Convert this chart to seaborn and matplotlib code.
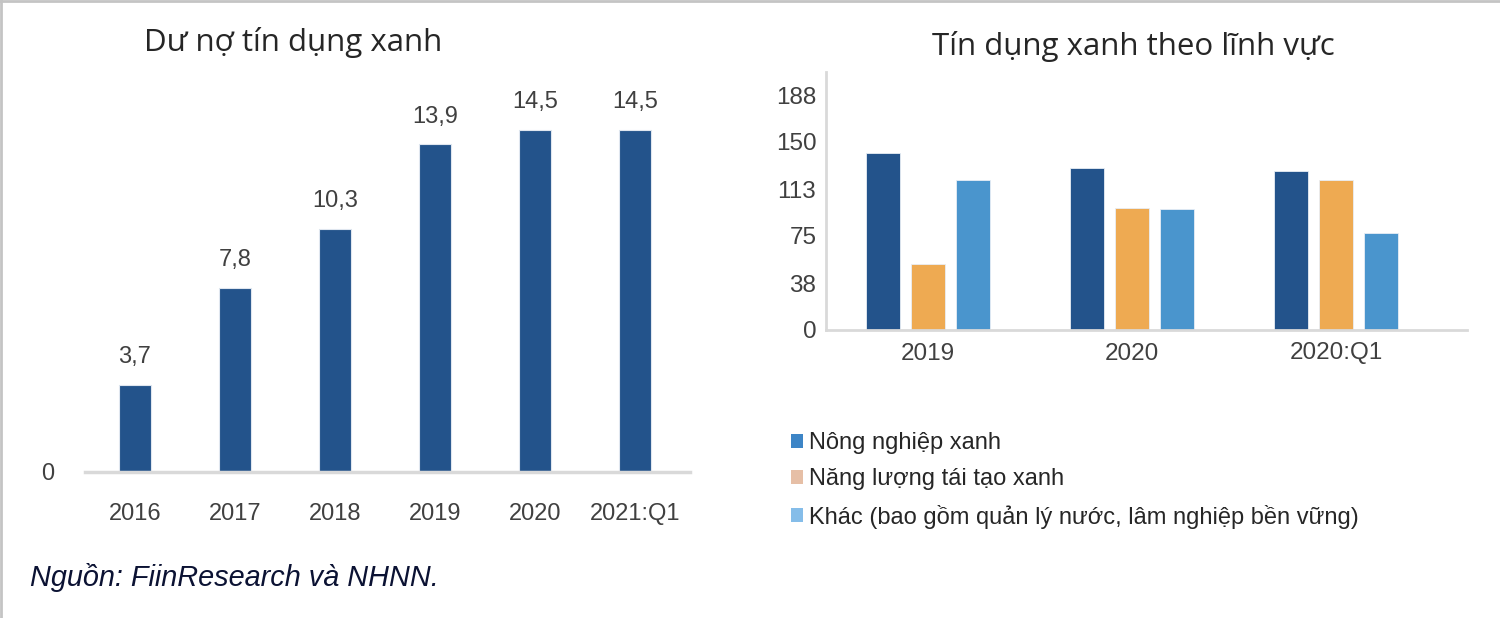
import pandas as pd
import matplotlib.pyplot as plt
import seaborn as sns
from matplotlib.patches import Patch
from matplotlib.lines import Line2D

# left chart: outstanding green credit
years = ["2016", "2017", "2018", "2019", "2020", "2021:Q1"]
credit = [3.7, 7.8, 10.3, 13.9, 14.5, 14.5]

# right chart: green credit by sector
periods = ["2019", "2020", "2020:Q1"]
sectors = ["Nông nghiệp xanh", "Năng lượng tái tạo xanh",
           "Khác (bao gồm quản lý nước, lâm nghiệp bền vững)"]
agri = [141.3, 130.0, 127.5]
energy = [52.5, 97.6, 120.3]
other = [120.0, 97.0, 78.0]
y_ticks = [0, 37.6, 75.2, 112.8, 150.4, 188]
y_tick_labels = ["0", "38", "75", "113", "150", "188"]

BAR_COLORS = ["#23538b", "#eeaa52", "#4a95cd"]
LEGEND_COLORS = ["#3d85c6", "#e6bfa6", "#85bde9"]
TEXT = "#404040"
GRID = "#d9d9d9"

sns.set_style("white")
plt.rcParams["font.family"] = ["Liberation Sans", "DejaVu Sans"]

fig = plt.figure(figsize=(15, 6.18), dpi=100)

# --- left chart ---
ax1 = fig.add_axes([85 / 1500, 1 - 472 / 618, 605 / 1500, 382 / 618])
df1 = pd.DataFrame({"year": years, "credit": credit})
sns.barplot(data=df1, x="year", y="credit", color=BAR_COLORS[0], width=0.32,
            saturation=1, edgecolor="#dfe6ef", linewidth=0.8, ax=ax1)
ax1.bar_label(ax1.containers[0], labels=[f"{v:.1f}".replace(".", ",") for v in credit],
              padding=12, fontsize=17, color=TEXT)
ax1.set_xlim(-0.5, 5.55)
ax1.set_ylim(0, 16.2)
ax1.set_yticks([0])
ax1.set_yticklabels(["0"])
ax1.set_xlabel("")
ax1.set_ylabel("")
ax1.tick_params(axis="x", length=0, pad=22, labelsize=17, labelcolor=TEXT)
ax1.tick_params(axis="y", length=0, pad=22, labelsize=17, labelcolor=TEXT)
for s in ["top", "right", "left"]:
    ax1.spines[s].set_visible(False)
ax1.spines["bottom"].set_color(GRID)
ax1.spines["bottom"].set_linewidth(2.5)
fig.text(293 / 1500, 1 - 42 / 618, "Dư nợ tín dụng xanh", ha="center", va="center",
         fontsize=22.5, color="#262626", family=["Open Sans", "DejaVu Sans"])

# --- right chart ---
ax2 = fig.add_axes([826 / 1500, 1 - 330 / 618, 641 / 1500, 258 / 618])
df2 = pd.DataFrame({
    "period": periods * 3,
    "sector": [sectors[0]] * 3 + [sectors[1]] * 3 + [sectors[2]] * 3,
    "value": agri + energy + other,
})
sns.barplot(data=df2, x="period", y="value", hue="sector", palette=BAR_COLORS,
            width=0.66, gap=0.24, saturation=1, edgecolor="#e8eef5", linewidth=0.6,
            legend=False, ax=ax2)
ax2.set_xlim(-0.5, 2.642)
ax2.set_ylim(0, 206.4)
ax2.set_yticks(y_ticks)
ax2.set_yticklabels(y_tick_labels)
ax2.set_xlabel("")
ax2.set_ylabel("")
ax2.tick_params(axis="x", length=0, pad=9, labelsize=17.5, labelcolor=TEXT)
ax2.tick_params(axis="y", length=0, pad=7, labelsize=17.5, labelcolor=TEXT)
for s in ["top", "right"]:
    ax2.spines[s].set_visible(False)
for s in ["bottom", "left"]:
    ax2.spines[s].set_color(GRID)
    ax2.spines[s].set_linewidth(2)
fig.text(1133 / 1500, 1 - 46 / 618, "Tín dụng xanh theo lĩnh vực", ha="center", va="center",
         fontsize=22.5, color="#262626", family=["Open Sans", "DejaVu Sans"])

handles = [Patch(facecolor=c, edgecolor="none") for c in LEGEND_COLORS]
fig.legend(handles, sectors, loc="upper left", bbox_to_anchor=(770 / 1500, 1 - 411 / 618),
           frameon=False, fontsize=17, handlelength=0.5, handleheight=0.5,
           handletextpad=0.25, labelspacing=0.6, labelcolor="#262626")

# source note
fig.text(30 / 1500, 1 - 577 / 618, "Nguồn: FiinResearch và NHNN.", ha="left", va="center",
         fontsize=20.8, style="italic", color="#0b1233")

# thin frame on top and left edges
fig.add_artist(Line2D([0, 1], [0.999, 0.999], color="#c4c4c4", linewidth=2, transform=fig.transFigure))
fig.add_artist(Line2D([0.0007, 0.0007], [0, 1], color="#c4c4c4", linewidth=2, transform=fig.transFigure))

fig.savefig("out.png", dpi=100)
plt.close(fig)
